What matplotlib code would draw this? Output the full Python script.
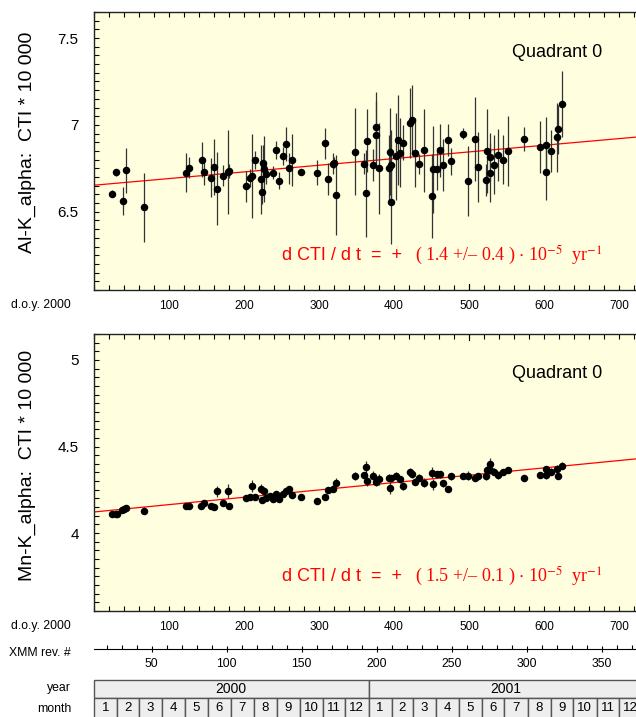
import numpy as np
import matplotlib
matplotlib.use("Agg")
import matplotlib.pyplot as plt
from matplotlib.ticker import MultipleLocator, FuncFormatter
from matplotlib.patches import Rectangle

plt.rcParams['font.family'] = ['Liberation Sans', 'DejaVu Sans']
plt.rcParams['mathtext.fontset'] = 'stix'

# === Data ===
# Al-K_alpha, Quadrant 0
day_al = [24, 29, 38, 42, 67, 122, 127, 144, 146, 156, 160, 164, 172, 178, 180,
          202, 208, 210, 215, 223, 224, 225, 227, 229, 238, 242, 246, 252, 256, 260,
          264, 276, 297, 308, 312, 318, 319.5, 322, 347.5, 360, 362, 364, 371.5, 376,
          376.4, 380, 394.7, 393.7, 396.4, 395.6, 402, 404.9, 408, 412, 421.8, 424,
          428, 433.8, 440, 451, 451.6, 456.9, 461.8, 465.8, 472, 476, 491.6, 499, 508,
          512, 522, 524, 527.6, 528, 533.8, 538, 545, 551.6, 573, 595, 602, 602, 609.7,
          617, 619, 624]
al = [6.603, 6.727, 6.562, 6.739, 6.526, 6.726, 6.754, 6.80, 6.727, 6.697, 6.758,
      6.632, 6.708, 6.729, 6.733, 6.647, 6.695, 6.706, 6.799, 6.686, 6.613, 6.783,
      6.747, 6.718, 6.726, 6.855, 6.68, 6.821, 6.89, 6.751, 6.799, 6.729, 6.726,
      6.895, 6.689, 6.777, 6.783, 6.596, 6.847, 6.777, 6.606, 6.91, 6.77, 6.94,
      6.99, 6.75, 6.847, 6.752, 6.554, 6.77, 6.82, 6.914, 6.84, 6.898, 7.011, 7.03,
      6.84, 6.775, 6.853, 6.59, 6.745, 6.745, 6.853, 6.77, 6.914, 6.79, 6.95, 6.676,
      6.918, 6.758, 6.683, 6.85, 6.724, 6.816, 6.772, 6.825, 6.80, 6.85, 6.918,
      6.872, 6.885, 6.727, 6.852, 6.928, 6.975, 7.12]
al_err = [0.02, 0.02, 0.08, 0.13, 0.2, 0.11, 0.06, 0.1, 0.07, 0.11, 0.16, 0.21,
          0.06, 0.24, 0.04, 0.09, 0.05, 0.24, 0.05, 0.2, 0.07, 0.1, 0.19, 0.06, 0.04,
          0.05, 0.05, 0.05, 0.1, 0.09, 0.15, 0.02, 0.07, 0.09, 0.09, 0.06, 0.03, 0.23,
          0.25, 0.06, 0.25, 0.18, 0.09, 0.2, 0.2, 0.26, 0.25, 0.19, 0.24, 0.2, 0.25,
          0.26, 0.2, 0.1, 0.2, 0.2, 0.2, 0.06, 0.24, 0.24, 0.25, 0.12, 0.15, 0.15,
          0.09, 0.08, 0.03, 0.2, 0.24, 0.2, 0.09, 0.24, 0.17, 0.14, 0.17, 0.15, 0.14,
          0.2, 0.07, 0.15, 0.16, 0.16, 0.12, 0.2, 0.14, 0.19]

# Mn-K_alpha, Quadrant 0
day_mn = [24, 29, 31, 37, 40, 43, 67, 122, 127, 143, 146, 156, 160, 164, 172, 178,
          180, 202, 208, 210, 215, 223, 224, 226, 229, 235, 238, 242, 246, 252, 256,
          260, 264, 276, 297, 308, 312, 318, 322, 347.6, 360, 362, 364, 371.6, 376,
          380, 393.3, 394.7, 395.6, 402, 408, 412, 421.8, 424, 428, 433.8, 440, 451,
          451.6, 456.9, 461.8, 465.8, 472, 476, 491.6, 499, 508, 512, 522, 524, 527.6,
          528, 533.8, 538, 545, 551.6, 573, 595, 602, 602, 609.7, 617, 619, 624]
mn = [4.111, 4.11, 4.11, 4.134, 4.142, 4.144, 4.13, 4.159, 4.159, 4.159, 4.172,
      4.159, 4.153, 4.241, 4.174, 4.245, 4.157, 4.205, 4.209, 4.27, 4.209, 4.257,
      4.19, 4.241, 4.203, 4.216, 4.197, 4.224, 4.195, 4.226, 4.245, 4.253, 4.22,
      4.211, 4.188, 4.211, 4.249, 4.255, 4.287, 4.329, 4.335, 4.381, 4.303, 4.331,
      4.297, 4.31, 4.32, 4.262, 4.316, 4.331, 4.31, 4.272, 4.354, 4.341, 4.297,
      4.32, 4.291, 4.35, 4.281, 4.339, 4.339, 4.287, 4.257, 4.329, 4.331, 4.331,
      4.32, 4.329, 4.329, 4.364, 4.398, 4.364, 4.354, 4.335, 4.352, 4.364, 4.316,
      4.335, 4.37, 4.335, 4.354, 4.373, 4.329, 4.389]
mn_err = [0.01, 0.01, 0.01, 0.01, 0.01, 0.01, 0.02, 0.01, 0.01, 0.01, 0.01, 0.01,
          0.01, 0.03, 0.01, 0.04, 0.01, 0.015, 0.015, 0.035, 0.01, 0.025, 0.01, 0.02,
          0.01, 0.015, 0.01, 0.015, 0.01, 0.015, 0.015, 0.015, 0.015, 0.01, 0.01,
          0.015, 0.02, 0.02, 0.03, 0.025, 0.02, 0.035, 0.03, 0.025, 0.025, 0.03,
          0.02, 0.035, 0.02, 0.02, 0.02, 0.025, 0.02, 0.02, 0.02, 0.02, 0.025, 0.03,
          0.03, 0.02, 0.02, 0.02, 0.015, 0.02, 0.015, 0.025, 0.02, 0.02, 0.02, 0.03,
          0.035, 0.02, 0.02, 0.02, 0.015, 0.015, 0.01, 0.015, 0.02, 0.02, 0.02, 0.02,
          0.015, 0.02]

# linear fits: value at day 0 and slope per year
al_fit = (6.653, 0.14)
mn_fit = (4.122, 0.155)

doy_ticks = [100, 200, 300, 400, 500, 600, 700]
rev_ticks = [50, 100, 150, 200, 250, 300, 350]
rev_day0 = -23          # day of revolution 0 (2 days per revolution)
years = ['2000', '2001']
month_len = [[31, 29, 31, 30, 31, 30, 31, 31, 30, 31, 30, 31],
             [31, 28, 31, 30, 31, 30, 31, 31, 30, 31, 30, 31]]

# === Layout ===
W, H = 636, 717
XMAX = 760
BG = '#ffffe0'
RED = '#ff0000'


def rect(l, t, r, b):
    return [l / W, 1 - b / H, (r - l) / W, (b - t) / H]


fig = plt.figure(figsize=(W / 100, H / 100), dpi=100)
right = 94 + 0.75 * XMAX

ax1 = fig.add_axes(rect(94, 12, right, 290))
ax2 = fig.add_axes(rect(94, 334, right, 611))

panels = [
    (ax1, day_al, al, al_err, al_fit, (6.05, 7.65), [6.5, 7, 7.5],
     '( 1.4 +/\u2013 0.4 ) $\\cdot$ 10$^{-5}$  yr$^{-1}$', 'Al-K_alpha:  CTI * 10 000', 142),
    (ax2, day_mn, mn, mn_err, mn_fit, (3.55, 5.15), [4, 4.5, 5],
     '( 1.5 +/\u2013 0.1 ) $\\cdot$ 10$^{-5}$  yr$^{-1}$', 'Mn-K_alpha:  CTI * 10 000', 465),
]

for ax, xd, yd, ed, fit, ylim, yt, slope_txt, ylab, ylab_y in panels:
    ax.set_facecolor(BG)
    ax.set_xlim(0, XMAX)
    ax.set_ylim(*ylim)

    xx = np.array([0, XMAX])
    ax.plot(xx, fit[0] + fit[1] * xx / 365.25, color=RED, lw=0.9, zorder=2)
    ax.errorbar(xd, yd, yerr=ed, fmt='o', color='black', ms=4.4,
                ecolor='#333333', elinewidth=0.9, capsize=0, zorder=3)

    ax.xaxis.set_major_locator(MultipleLocator(100))
    ax.xaxis.set_minor_locator(MultipleLocator(20))
    ax.set_xticks(doy_ticks)
    ax.yaxis.set_major_locator(MultipleLocator(0.5))
    ax.yaxis.set_minor_locator(MultipleLocator(0.05))
    ax.set_yticks(yt)
    ax.yaxis.set_major_formatter(FuncFormatter(lambda v, p: '%g' % v))
    ax.tick_params(axis='x', which='both', direction='in', top=True, bottom=True,
                   length=3.5, width=0.8, labelsize=8.5, pad=7)
    ax.tick_params(axis='y', which='both', direction='in', left=True, right=True,
                   length=3.5, width=0.8, labelsize=11, pad=11)
    for y0, y1 in [(0, 0.022), (0.978, 1)]:
        ax.axvline(500, ymin=y0, ymax=y1, color='black', lw=0.8)
    for s in ax.spines.values():
        s.set_linewidth(1.0)
        s.set_color('#222222')

    ylo, yhi = ylim
    ax.text(617, yhi - 0.231, 'Quadrant 0', ha='center', va='center', fontsize=13)
    ax.text(251, ylo + 0.2, 'd CTI / d t  =  +', ha='left', va='center',
            fontsize=13, color=RED)
    ax.text(428, ylo + 0.2, slope_txt, ha='left', va='center', fontsize=13,
            color=RED, family='Liberation Serif')
    fig.text(27 / W, 1 - ylab_y / H, ylab, rotation=90, ha='center', va='center',
             fontsize=14)

# left labels
for txt, y in [('d.o.y. 2000', 305), ('d.o.y. 2000', 626), ('XMM rev. #', 653),
               ('year', 688), ('month', 709)]:
    fig.text(71 / W, 1 - y / H, txt, ha='right', va='center', fontsize=8.8)

# XMM revolution axis
axr = fig.add_axes(rect(94, 630, right, 649))
axr.set_xlim((0 - rev_day0) / 2, (XMAX - rev_day0) / 2)
for k in ['top', 'left', 'right']:
    axr.spines[k].set_visible(False)
axr.patch.set_visible(False)
axr.set_yticks([])
axr.xaxis.set_minor_locator(MultipleLocator(10))
axr.set_xticks(rev_ticks)
axr.tick_params(axis='x', which='major', direction='inout', length=5, width=0.8,
                labelsize=8.8, pad=4)
axr.tick_params(axis='x', which='minor', direction='in', length=3, width=0.8)
axr.spines['bottom'].set_linewidth(0.8)

# year / month boxes
axb = fig.add_axes(rect(94, 680, right, 718))
axb.set_xlim(0, XMAX)
axb.set_ylim(0, 2.1)
axb.axis('off')
start = 0
for yr, mlen in zip(years, month_len):
    total = sum(mlen)
    axb.add_patch(Rectangle((start, 1.1), total, 1, facecolor='#eeeeee',
                            edgecolor='#555555', lw=1, clip_on=False))
    axb.text(start + total / 2, 1.6, yr, ha='center', va='center', fontsize=10)
    m0 = start
    for i, ml in enumerate(mlen):
        axb.add_patch(Rectangle((m0, -0.3), ml, 1.4, facecolor='#eeeeee',
                                edgecolor='#555555', lw=1, clip_on=False))
        axb.text(m0 + ml / 2, 0.55, str(i + 1), ha='center', va='center', fontsize=9.5)
        m0 += ml
    start += total

fig.savefig('out.png', dpi=100)
